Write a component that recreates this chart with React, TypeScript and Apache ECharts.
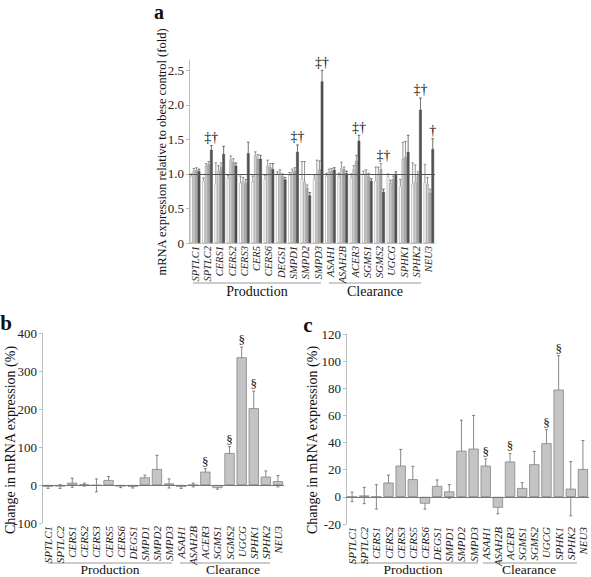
import React, { useEffect, useRef } from "react";
import * as echarts from "echarts";

const SERIF = '"Liberation Serif", "DejaVu Serif", "Times New Roman", serif';

// Panel a
const catsA = ["SPTLC1","SPTLC2","CERS1","CERS2","CERS3","CER5","CERS6","DEGS1","SMPD1","SMPD2","SMPD3","ASAH1","ASAH2B","ACER3","SGMS1","SGMS2","UGCG","SPHK1","SPHK2","NEU3"];
const whiteA = [0.97,0.9,0.86,0.94,0.87,0.89,0.93,1.0,0.98,0.93,0.93,0.97,0.96,0.95,1.0,0.9,0.97,0.82,0.86,0.88];
const lightA = [1.04,1.12,1.04,1.21,0.9,1.27,1.12,1.02,1.03,0.88,1.0,1.03,1.08,1.07,1.01,1.0,0.87,1.22,0.88,0.85];
const mediumA = [1.06,1.14,1.1,1.17,0.87,1.22,1.1,0.97,1.05,0.8,1.07,1.05,1.07,1.19,0.97,1.07,0.93,1.25,0.98,0.73];
const darkA = [1.04,1.35,1.29,1.12,1.3,1.22,1.07,0.92,1.32,0.69,2.34,1.06,1.01,1.48,0.9,0.74,1.0,1.32,1.93,1.36];
const whiteErrA = [0.03,0.04,0.3,0.04,0.1,0.08,0.05,0.03,0.04,0.25,0.06,0.04,0.05,0.05,0.04,0.2,0.03,0.1,0.3,0.26];
const lightErrA = [0.04,0.03,0.08,0.05,0.05,0.05,0.08,0.04,0.04,0.3,0.2,0.04,0.09,0.05,0.05,0.1,0.04,0.24,0.25,0.1];
const mediumErrA = [0.03,0.04,0.06,0.05,0.05,0.06,0.05,0.03,0.04,0.04,0.12,0.03,0.03,0.08,0.04,0.08,0.04,0.22,0.05,0.05];
const darkErrA = [0.03,0.06,0.11,0.04,0.16,0.05,0.08,0.03,0.1,0.04,0.16,0.03,0.03,0.08,0.03,0.04,0.03,0.24,0.17,0.15];
const marksA: [number, string][] = [[1,"‡†"],[8,"‡†"],[10,"‡†"],[13,"‡†"],[15,"‡†"],[18,"‡†"],[19,"†"]];
const ticksA = [0, 0.5, 1.0, 1.5, 2.0, 2.5];

// Panels b and c
const catsBC = ["SPTLC1","SPTLC2","CERS1","CERS2","CERS3","CERS5","CERS6","DEGS1","SMPD1","SMPD2","SMPD3","ASAH1","ASAH2B","ACER3","SGMS1","SGMS2","UGCG","SPHK1","SPHK2","NEU3"];
const valuesB = [-5,-4,6,1,-1,13,-4,-5,20,42,4,-5,0,35,-8,84,336,202,22,10];
const errB = [4,5,12,4,17,9,3,3,6,36,12,4,5,8,3,17,27,45,15,15];
const marksB = [13,15,16,17];
const valuesC = [0,1,0,10.5,23,13,-5,8,4,34,35.5,23,-8,26,6.5,24,39.5,79,6,20.5];
const errC = [3.5,6,9,5.5,12,9.5,4,4.5,5,22.5,24.5,5,4.5,6,4,9.5,10,25,20,21];
const marksC = [11,13,16,17];

const BAR_W_A = 2.6;

function errorSeriesA(vals: number[][], errs: number[][]) {
  const data: number[][] = [];
  vals.forEach((arr, s) => arr.forEach((v, i) => data.push([i, s, v, errs[s][i]])));
  return {
    type: "custom",
    xAxisIndex: 0,
    yAxisIndex: 0,
    silent: true,
    encode: { x: 0, y: 2 },
    itemStyle: { color: "#444" },
    data,
    renderItem: (params: any, api: any) => {
      const c = api.value(0), s = api.value(1), v = api.value(2), e = api.value(3);
      const p0 = api.coord([c, v]);
      const p1 = api.coord([c, v + e]);
      const x = p0[0] + (s - 1.5) * BAR_W_A;
      const col = s === 3 ? "#333" : "#666";
      return {
        type: "group",
        children: [
          { type: "line", shape: { x1: x, y1: p0[1], x2: x, y2: p1[1] }, style: { stroke: col, lineWidth: 0.7 } },
          { type: "line", shape: { x1: x - 1.3, y1: p1[1], x2: x + 1.3, y2: p1[1] }, style: { stroke: col, lineWidth: 0.7 } },
        ],
      };
    },
  };
}

function errorSeriesBC(axis: number, vals: number[], errs: number[]) {
  return {
    type: "custom",
    xAxisIndex: axis,
    yAxisIndex: axis,
    silent: true,
    encode: { x: 0, y: 1 },
    itemStyle: { color: "#555" },
    data: vals.map((v, i) => [i, v, errs[i]]),
    renderItem: (params: any, api: any) => {
      const c = api.value(0), v = api.value(1), e = api.value(2);
      const pt = api.coord([c, v + e]);
      const pb = api.coord([c, v - e]);
      const x = pt[0];
      const st = { stroke: "#555", lineWidth: 0.7 };
      return {
        type: "group",
        children: [
          { type: "line", shape: { x1: x, y1: pt[1], x2: x, y2: pb[1] }, style: st },
          { type: "line", shape: { x1: x - 1.5, y1: pt[1], x2: x + 1.5, y2: pt[1] }, style: st },
          { type: "line", shape: { x1: x - 1.5, y1: pb[1], x2: x + 1.5, y2: pb[1] }, style: st },
        ],
      };
    },
  };
}

function markSeries(axis: number, data: (number | string)[][], dx: number, fontSize: number) {
  return {
    type: "custom",
    xAxisIndex: axis,
    yAxisIndex: axis,
    silent: true,
    encode: { x: 0, y: 1 },
    itemStyle: { color: "#111" },
    data,
    renderItem: (params: any, api: any) => {
      const c = api.value(0), y = api.value(1);
      const p = api.coord([c, y]);
      return {
        type: "text",
        x: p[0] + dx,
        y: p[1] - 1,
        style: {
          text: data[params.dataIndex][2] as string,
          fill: "#111",
          stroke: "none",
          font: `${fontSize}px ${SERIF}`,
          align: "center",
          verticalAlign: "bottom",
        },
      };
    },
  };
}

const yAxisBase = (grid: number, min: number, max: number, interval: number | undefined, fmt: (v: number) => string, custom?: number[]) => ({
  type: "value",
  gridIndex: grid,
  min,
  max,
  interval,
  splitLine: { show: false },
  axisLine: { show: true, lineStyle: { color: "#bdbdbd", width: 1 } },
  axisTick: { show: true, length: 3, lineStyle: { color: "#bdbdbd" }, ...(custom ? { customValues: custom } : {}) },
  axisLabel: { color: "#222", fontSize: 13, fontFamily: SERIF, margin: 5, formatter: fmt, ...(custom ? { customValues: custom } : {}) },
});

const xAxisBase = (grid: number, cats: string[], showLine: boolean, fontSize: number) => ({
  type: "category",
  gridIndex: grid,
  data: cats,
  axisLine: { show: showLine, onZero: false, lineStyle: { color: "#c8c8c8" } },
  axisTick: { show: false },
  axisLabel: { rotate: 90, interval: 0, fontStyle: "italic", fontFamily: SERIF, fontSize, color: "#222", margin: 3 },
});

export default function App() {
  const ref = useRef<HTMLDivElement>(null);
  useEffect(() => {
    if (!ref.current) return;
    const chart = echarts.init(ref.current, null, { renderer: "svg" });
    const valsA = [whiteA, lightA, mediumA, darkA];
    const errsA = [whiteErrA, lightErrA, mediumErrA, darkErrA];
    const colorsA = ["#ffffff", "#d2d2d2", "#a9a9a9", "#545454"];
    const marksAData = marksA.map(([i, s]) => [i, Math.max(...valsA.map((a, k) => a[i] + errsA[k][i])), s]);
    const marksBData = marksB.map((i) => [i, valuesB[i] + errB[i], "§"]);
    const marksCData = marksC.map((i) => [i, valuesC[i] + errC[i], "§"]);
    const lineStyleGroup = { stroke: "#999", lineWidth: 1.2 };
    const txt = (x: number, y: number, t: string, size: number, extra: any = {}) => ({
      type: "text",
      x,
      y,
      rotation: extra.rotation || 0,
      style: { text: t, fill: "#111", font: `${extra.weight || "normal"} ${size}px ${SERIF}`, align: "center", verticalAlign: "middle" },
    });
    const ln = (x1: number, x2: number, y: number) => ({ type: "line", shape: { x1, y1: y, x2, y2: y }, style: lineStyleGroup });

    chart.setOption({
      animation: false,
      grid: [
        { left: 189, top: 60, width: 246, height: 183 },
        { left: 42, top: 333, width: 242, height: 190 },
        { left: 346, top: 334, width: 243, height: 190 },
      ],
      xAxis: [xAxisBase(0, catsA, true, 10.5), xAxisBase(1, catsBC, false, 11), xAxisBase(2, catsBC, false, 11)],
      yAxis: [
        yAxisBase(0, 0, 2.65, undefined, (v: number) => (v === 0 ? "0" : v.toFixed(1)), ticksA),
        yAxisBase(1, -100, 400, 100, (v: number) => String(v)),
        yAxisBase(2, -20, 120, 20, (v: number) => String(v)),
      ],
      series: [
        ...valsA.map((arr, s) => ({
          type: "bar",
          xAxisIndex: 0,
          yAxisIndex: 0,
          data: arr,
          barWidth: BAR_W_A,
          barGap: "0%",
          itemStyle: { color: colorsA[s], borderColor: s === 3 ? "#3a3a3a" : "#8a8a8a", borderWidth: 0.5 },
          ...(s === 0
            ? {
                markLine: {
                  silent: true,
                  symbol: "none",
                  label: { show: false },
                  lineStyle: { color: "#555", width: 1, type: "solid" },
                  data: [{ yAxis: 1 }],
                },
              }
            : {}),
        })),
        errorSeriesA(valsA, errsA),
        markSeries(0, marksAData, 1.5 * BAR_W_A, 14),
        {
          type: "bar",
          xAxisIndex: 1,
          yAxisIndex: 1,
          data: valuesB,
          barCategoryGap: "16%",
          itemStyle: { color: "#c4c4c4", borderColor: "#7a7a7a", borderWidth: 0.7 },
          markLine: { silent: true, symbol: "none", label: { show: false }, lineStyle: { color: "#777", width: 1, type: "solid" }, data: [{ yAxis: 0 }] },
        },
        errorSeriesBC(1, valuesB, errB),
        markSeries(1, marksBData, 0, 13),
        {
          type: "bar",
          xAxisIndex: 2,
          yAxisIndex: 2,
          data: valuesC,
          barCategoryGap: "16%",
          itemStyle: { color: "#c4c4c4", borderColor: "#7a7a7a", borderWidth: 0.7 },
          markLine: { silent: true, symbol: "none", label: { show: false }, lineStyle: { color: "#777", width: 1, type: "solid" }, data: [{ yAxis: 0 }] },
        },
        errorSeriesBC(2, valuesC, errC),
        markSeries(2, marksCData, 0, 13),
      ],
      graphic: [
        txt(159, 12, "a", 20, { weight: "bold" }),
        txt(6, 323, "b", 21, { weight: "bold" }),
        txt(308, 325, "c", 21, { weight: "bold" }),
        txt(162, 152, "mRNA expression relative to obese control (fold)", 12.5, { rotation: Math.PI / 2 }),
        txt(10, 440, "Change in mRNA expression (%)", 14, { rotation: Math.PI / 2 }),
        txt(312, 440, "Change in mRNA expression (%)", 14, { rotation: Math.PI / 2 }),
        ln(193, 321, 283),
        ln(329, 421, 283),
        txt(257, 291, "Production", 14),
        txt(375, 291, "Clearance", 14),
        ln(48, 172, 563),
        ln(180, 270, 563),
        txt(110, 569, "Production", 13.5),
        txt(233, 569, "Clearance", 13.5),
        ln(352, 478, 563),
        ln(483, 577, 563),
        txt(413, 569, "Production", 13.5),
        txt(529, 569, "Clearance", 13.5),
      ],
    });
    return () => chart.dispose();
  }, []);
  return <div ref={ref} style={{ position: "fixed", left: 0, top: 0, width: 591, height: 577, background: "#fff" }} />;
}
